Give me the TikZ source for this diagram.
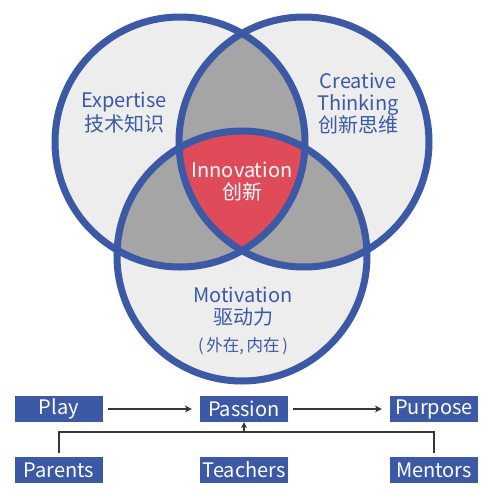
\documentclass[tikz,border=0pt]{standalone}
\usepackage{fontspec}
\setmainfont{Noto Sans CJK SC}
\usepackage{xcolor}
\usepackage{tikz}
\usetikzlibrary{arrows.meta, positioning, calc}

\definecolor{vennblue}{RGB}{60,89,166}
\definecolor{vennlight}{RGB}{237,237,237}
\definecolor{venngray}{RGB}{165,165,165}
\definecolor{vennred}{RGB}{224,75,90}
\definecolor{pijl}{RGB}{55,55,55}

\begin{document}
\begin{tikzpicture}[
    x=1pt, y=-1pt,
    font=\fontsize{20}{22}\selectfont,
    rand/.style={draw=vennblue, line width=7pt},
    label/.style={align=center, text=vennblue, inner sep=0pt},
    kotak/.style={fill=vennblue, text=white, minimum width=88pt,
                  minimum height=26pt, inner sep=0pt},
    alur/.style={draw=pijl, line width=1.6pt, -{Stealth[length=7pt, width=7pt]},
                 shorten <=5pt, shorten >=8pt},
    kurung/.style={draw=pijl, line width=2.6pt}
  ]
    \useasboundingbox (0,0) rectangle (504,501);
    \coordinate (L) at (180,142);
    \coordinate (R) at (304,142);
    \coordinate (B) at (242,256);
    \def\r{125pt}

    % isi lingkaran
    \foreach \c in {L,R,B}
      \fill[vennlight] (\c) circle[radius=\r];
    \begin{scope}
      \clip (L) circle[radius=\r];
      \fill[venngray] (R) circle[radius=\r];
      \fill[venngray] (B) circle[radius=\r];
    \end{scope}
    \begin{scope}
      \clip (R) circle[radius=\r];
      \fill[venngray] (B) circle[radius=\r];
    \end{scope}
    \begin{scope}
      \clip (L) circle[radius=\r];
      \clip (R) circle[radius=\r];
      \fill[vennred] (B) circle[radius=\r];
    \end{scope}
    \foreach \c in {L,R,B}
      \draw[rand] (\c) circle[radius=\r];

    \node[label, font=\fontsize{20}{24}\selectfont] (keahlian) at (124,113) {Expertise\\技术知识};
    \node[label] (kreatif) at (358,104) {Creative\\Thinking\\创新思维};
    \node[label, text=white] (inovasi) at (242,182) {Innovation\\创新};
    \node[label] (motivasi) at (243,307) {Motivation\\驱动力};
    \node[label, font=\fontsize{16.5}{18}\selectfont, below=11pt of motivasi] (sumber) {(\,外在,\,内在\,)};

    \node[kotak] (play) at (59,409) {Play};
    \node[kotak] (passion) at (244,409) {Passion};
    \node[kotak] (purpose) at (434,409) {Purpose};
    \node[kotak] (parents) at (59,470) {Parents};
    \node[kotak] (teachers) at (244,470) {Teachers};
    \node[kotak] (mentors) at (434,470) {Mentors};

    \draw[alur] (play) -- (passion);
    \draw[alur] (passion) -- (purpose);
    \coordinate (tengah) at (244,432);
    \draw[kurung, shorten <=4pt, shorten >=4pt]
      (parents.north) |- (tengah) -| (mentors.north);
    \draw[kurung, line width=1.6pt, -{Stealth[length=6pt, width=6pt]}]
      (tengah) -- (passion.south);
  \end{tikzpicture}
\end{document}
